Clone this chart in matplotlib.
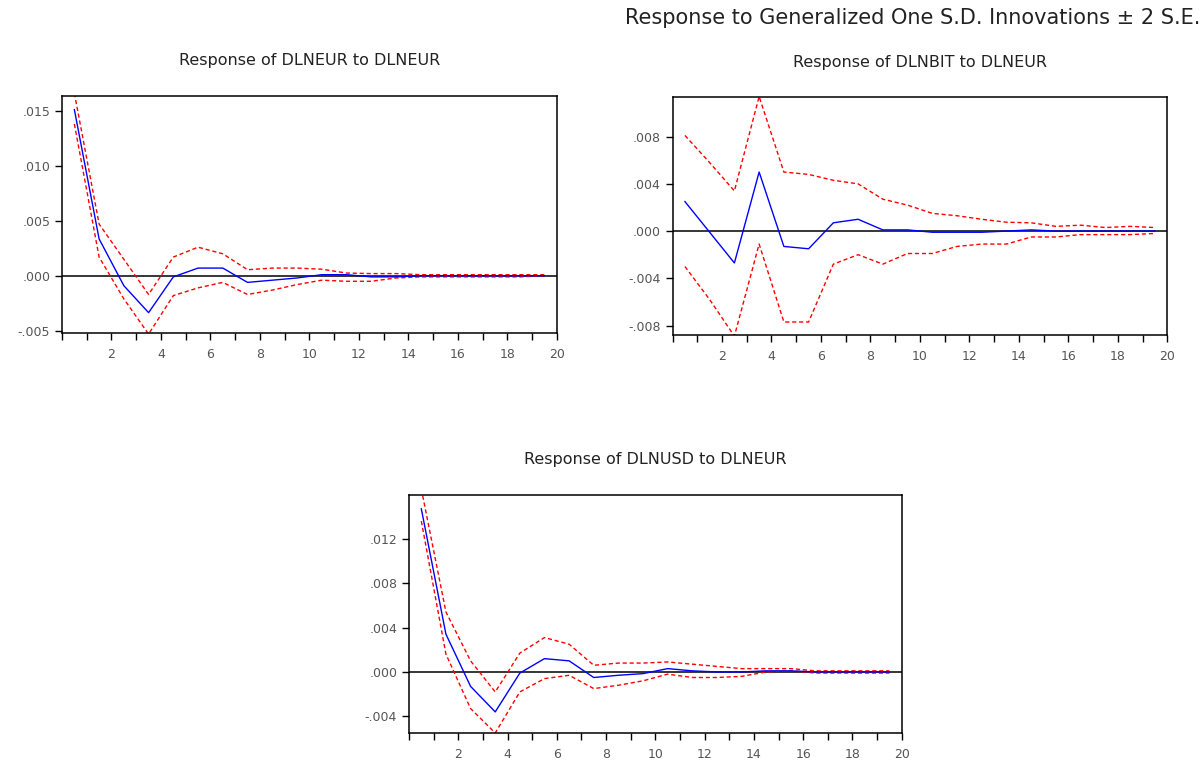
import numpy as np
import matplotlib
matplotlib.use("Agg")
import matplotlib.pyplot as plt
from matplotlib.ticker import FuncFormatter, MultipleLocator, FixedLocator

plt.rcParams['font.family'] = ['DejaVu Sans']

# Impulse response horizon
periods = np.arange(1, 21)

# Response of DLNEUR to DLNEUR
eur_resp = [0.0151, 0.00335, -0.0009, -0.00335, -0.0001, 0.0007, 0.0007, -0.0006, -0.0004, -0.0002,
            0.0001, 0.0001, -0.0001, -0.0001, 0.0, 0.0, 0.0, 0.0, 0.0, 0.0]
eur_upper = [0.0166, 0.0047, 0.0015, -0.0017, 0.0017, 0.0026, 0.002, 0.00055, 0.0007, 0.0007,
             0.0006, 0.00025, 0.0002, 0.0002, 0.0001, 0.0001, 0.0001, 0.0001, 0.0001, 0.0001]
eur_lower = [0.0138, 0.0017, -0.0021, -0.0053, -0.0018, -0.0011, -0.0006, -0.0017, -0.0013, -0.0008,
             -0.0004, -0.0005, -0.0005, -0.0002, -0.0001, -0.0001, -0.0001, -0.0001, -0.0001, 0.0]

# Response of DLNBIT to DLNEUR
bit_resp = [0.0025, -0.0001, -0.0027, 0.005, -0.0013, -0.0015, 0.0007, 0.001, 0.0001, 0.0001,
            -0.0001, -0.0001, -0.0001, 0.0, 0.0001, 0.0, 0.0, 0.0, 0.0, 0.0]
bit_upper = [0.0081, 0.0058, 0.0034, 0.0114, 0.005, 0.0048, 0.0043, 0.004, 0.0027, 0.0022,
             0.0015, 0.0013, 0.001, 0.00075, 0.0007, 0.0004, 0.0005, 0.0003, 0.0004, 0.0003]
bit_lower = [-0.003, -0.0058, -0.0089, -0.0011, -0.0077, -0.0077, -0.0028, -0.002, -0.0028, -0.0019,
             -0.0019, -0.0013, -0.0011, -0.0011, -0.0005, -0.0005, -0.0003, -0.0003, -0.0003, -0.0002]

# Response of DLNUSD to DLNEUR
usd_resp = [0.0147, 0.0034, -0.0013, -0.0036, -0.0001, 0.0012, 0.001, -0.0005, -0.0003, -0.00015,
            0.0003, 0.0001, 0.0, 0.0, 0.0001, 0.0001, 0.0, 0.0, 0.0, 0.0]
usd_upper = [0.0165, 0.0054, 0.001, -0.0018, 0.0017, 0.0031, 0.0025, 0.0006, 0.0008, 0.0008,
             0.0009, 0.0007, 0.0005, 0.0003, 0.0003, 0.0003, 0.0001, 0.0001, 0.0001, 0.0001]
usd_lower = [0.0136, 0.0016, -0.0033, -0.0055, -0.0018, -0.0006, -0.0003, -0.0015, -0.0012, -0.0008,
             -0.0002, -0.0005, -0.0005, -0.0004, 0.0, 0.0001, -0.0001, -0.0001, -0.0001, -0.0001]

titles = ["Response of DLNEUR to DLNEUR", "Response of DLNBIT to DLNEUR", "Response of DLNUSD to DLNEUR"]
xlabels = list(range(2, 21, 2))


def dot_fmt(v, pos):
    s = f"{v:.3f}"
    return s.replace("0.", ".", 1)


def irf_panel(ax, resp, upper, lower, title, ylim, ystep):
    x = periods - 0.5
    ax.axhline(0, color='black', lw=1.1, zorder=1)
    ax.plot(x, upper, color='red', lw=1.0, ls=(0, (3, 2)), zorder=2)
    ax.plot(x, lower, color='red', lw=1.0, ls=(0, (3, 2)), zorder=2)
    ax.plot(x, resp, color='blue', lw=1.0, zorder=3)
    ax.set_xlim(0, 20)
    ax.set_ylim(*ylim)
    ax.xaxis.set_major_locator(FixedLocator(xlabels))
    ax.xaxis.set_minor_locator(MultipleLocator(1))
    ax.yaxis.set_major_locator(MultipleLocator(ystep))
    ax.yaxis.set_major_formatter(FuncFormatter(dot_fmt))
    ax.tick_params(axis='both', which='both', direction='out', length=5, width=1,
                   labelsize=9, labelcolor='#555555', color='black')
    ax.tick_params(axis='x', which='major', pad=6)
    for sp in ax.spines.values():
        sp.set_linewidth(1.1)
    ax.set_title(title, fontsize=11.5, color='#222222', pad=22)


fig = plt.figure(figsize=(12.04, 7.62), dpi=100)

ax1 = fig.add_axes([0.0515, 0.563, 0.4109, 0.311])
irf_panel(ax1, eur_resp, eur_upper, eur_lower, titles[0], (-0.0052, 0.01634), 0.005)

ax2 = fig.add_axes([0.5586, 0.5604, 0.4109, 0.3119])
irf_panel(ax2, bit_resp, bit_upper, bit_lower, titles[1], (-0.0088, 0.01133), 0.004)

ax3 = fig.add_axes([0.3397, 0.0381, 0.4092, 0.3123])
irf_panel(ax3, usd_resp, usd_upper, usd_lower, titles[2], (-0.0055, 0.01595), 0.004)

fig.text(0.997, 1 - 18 / 762, "Response to Generalized One S.D. Innovations \u00b1 2 S.E.",
         ha='right', va='center', fontsize=15, color='#222222')

fig.savefig("out.png", dpi=100)
